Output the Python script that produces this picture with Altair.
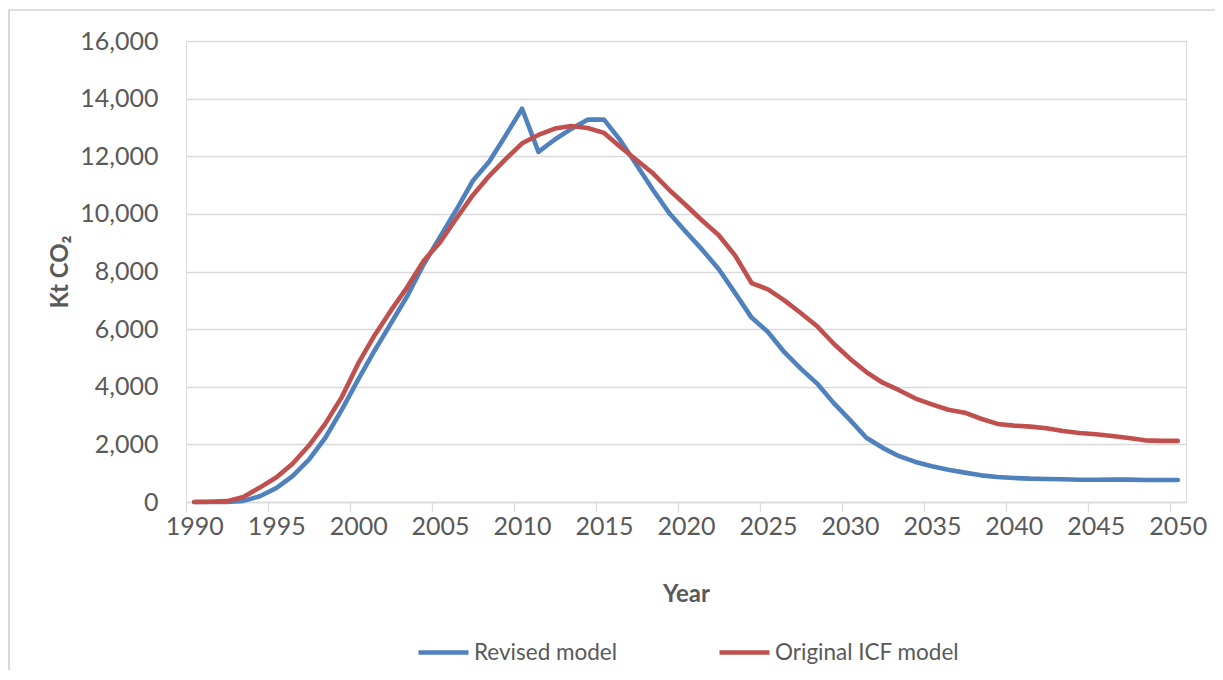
import altair as alt
import pandas as pd

years = list(range(1990, 2051))

revised = [0, 0, 0, 40, 200, 480, 900, 1470, 2230, 3200, 4250, 5250, 6200, 7150, 8250,
           9200, 10150, 11150, 11820, 12720, 13650, 12150, 12580, 12950, 13270, 13270,
           12550, 11690, 10820, 10010, 9370, 8750, 8080, 7250, 6400, 5900, 5200, 4630,
           4110, 3440, 2850, 2230, 1880, 1590, 1390, 1240, 1120, 1020, 925, 870, 833,
           810, 800, 787, 770, 770, 775, 775, 765, 765, 765]

original = [0, 10, 30, 170, 500, 850, 1330, 1960, 2720, 3640, 4800, 5780, 6650, 7460,
            8370, 9020, 9850, 10650, 11320, 11900, 12450, 12740, 12960, 13050, 12980,
            12810, 12320, 11860, 11400, 10820, 10300, 9760, 9260, 8550, 7600, 7380,
            7000, 6560, 6100, 5500, 4975, 4510, 4140, 3880, 3590, 3390, 3200, 3100,
            2890, 2710, 2650, 2615, 2560, 2465, 2395, 2350, 2290, 2220, 2140, 2120, 2120]

series_names = ["Revised model", "Original ICF model"]
series_colors = ["#4F81BD", "#C0504D"]
tick_positions = [y - 0.5 for y in range(1990, 2051, 5)]
y_ticks = list(range(0, 16001, 2000))

df = pd.concat([
    pd.DataFrame({"Year": years, "Value": revised, "Series": series_names[0]}),
    pd.DataFrame({"Year": years, "Value": original, "Series": series_names[1]}),
])

FONT = "Lato"
W, H = 1000, 461
cat_px = W / 61.0

lines = alt.Chart(df).mark_line(strokeWidth=4.6, strokeCap="round", strokeJoin="round").encode(
    x=alt.X("Year:Q",
            scale=alt.Scale(domain=[1989.5, 2050.5], nice=False, zero=False),
            axis=alt.Axis(values=tick_positions, title="Year", grid=False,
                          labelExpr="format(datum.value + 0.5, 'd')",
                          labelOffset=cat_px / 2, tickSize=9, tickColor="#D9D9D9",
                          domainColor="#D9D9D9", domainWidth=1.3, tickWidth=1.3,
                          labelFontSize=25, labelColor="#595959", labelFont=FONT,
                          labelPadding=3, titleFontSize=24, titleFont=FONT,
                          titleFontWeight="bold", titleColor="#595959",
                          titlePadding=43, labelFlush=False)),
    y=alt.Y("Value:Q",
            scale=alt.Scale(domain=[0, 16000], nice=False),
            axis=alt.Axis(values=y_ticks, format=",d", title="Kt CO₂", ticks=False,
                          domain=False, gridColor="#D9D9D9", gridWidth=1.3,
                          labelFontSize=25, labelColor="#595959", labelFont=FONT,
                          labelPadding=28, titleFontSize=24, titleFont=FONT,
                          titleFontWeight="bold", titleColor="#595959",
                          titlePadding=7)),
    color=alt.Color("Series:N",
                    scale=alt.Scale(domain=series_names, range=series_colors),
                    sort=series_names,
                    legend=alt.Legend(title=None, orient="none", direction="horizontal",
                                      legendX=230, legendY=584,
                                      symbolType="stroke", symbolSize=2500,
                                      symbolStrokeWidth=4.6, labelFontSize=22.5,
                                      labelFont=FONT, labelColor="#595959",
                                      labelOffset=3, columnPadding=92,
                                      labelLimit=400)),
)

border = alt.Chart(alt.Data(values=[{}])).mark_rect(
    fill="transparent", stroke="#BFBFBF", strokeWidth=1.2
).encode(
    x=alt.value(-177), x2=alt.value(W + 60),
    y=alt.value(-31), y2=alt.value(H + 200),
)

chart = alt.layer(border, lines).properties(
    width=W, height=H,
    autosize=alt.AutoSizeParams(type="none"),
    padding={"left": 178, "top": 33, "right": 29, "bottom": 168},
).configure_view(stroke=None).configure(background="white")

chart.save("out.html", embed_options={"renderer": "svg", "actions": False})
